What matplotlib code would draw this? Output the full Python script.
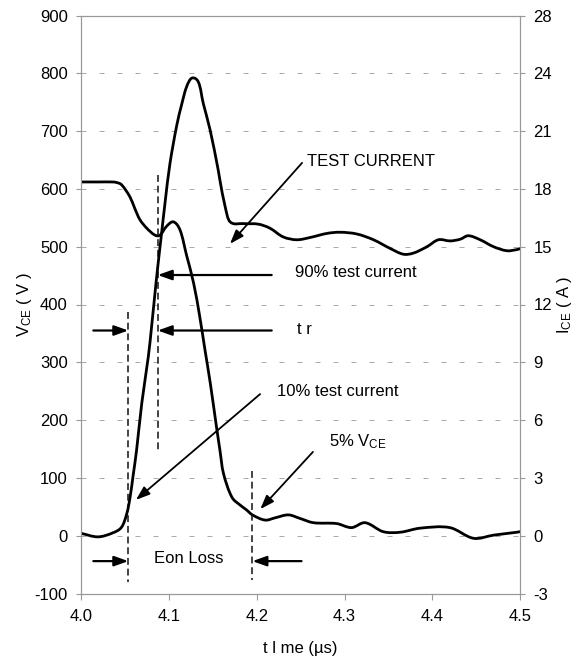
import matplotlib
matplotlib.use("Agg")
import numpy as np
import matplotlib.pyplot as plt
from matplotlib.path import Path
from matplotlib.patches import PathPatch

plt.rcParams['font.family'] = ['Liberation Sans', 'DejaVu Sans']
plt.rcParams['font.size'] = 12
plt.rcParams['axes.unicode_minus'] = False
plt.rcParams['mathtext.fontset'] = 'custom'
plt.rcParams['mathtext.rm'] = 'Liberation Sans'
plt.rcParams['mathtext.it'] = 'Liberation Sans:italic'

# collector-emitter voltage during turn-on (us, V)
t_vce = [4.000, 4.020, 4.035, 4.0404, 4.046, 4.0555, 4.061, 4.0667, 4.0746, 4.084,
         4.0897, 4.097, 4.105, 4.1125, 4.120, 4.128, 4.135, 4.141, 4.147, 4.154,
         4.158, 4.162, 4.1715, 4.181, 4.188, 4.195, 4.2095, 4.221, 4.236, 4.249,
         4.2645, 4.291, 4.308, 4.3235, 4.344, 4.3635, 4.386, 4.420, 4.447, 4.470,
         4.4965, 4.500]
vce = [612, 612, 612, 611, 607, 586, 566, 547, 532, 520,
       520, 535, 543, 529, 485, 437, 379, 321, 264, 189,
       148, 108, 67, 53, 45, 36, 27, 31, 36, 30,
       22.5, 21, 14, 22.5, 7, 6, 13, 14, -4.5, 1,
       6, 7]

# collector current (us, A)
t_ice = [4.000, 4.019, 4.036, 4.046, 4.052, 4.0556, 4.059, 4.063, 4.069, 4.0764,
         4.080, 4.084, 4.087, 4.0915, 4.0955, 4.101, 4.1088, 4.1145, 4.120, 4.126,
         4.1334, 4.139, 4.1468, 4.156, 4.158, 4.164, 4.1696, 4.1847, 4.2018, 4.215,
         4.230, 4.2456, 4.261, 4.280, 4.295, 4.314, 4.333, 4.352, 4.367, 4.3786,
         4.394, 4.407, 4.4204, 4.432, 4.441, 4.4546, 4.4698, 4.485, 4.4965, 4.500]
ice = [0.12, -0.06, 0.15, 0.45, 1.17, 2.0, 3.1, 4.44, 6.9, 9.3,
       10.8, 12.6, 13.9, 15.7, 17.3, 19.3, 21.3, 22.4, 23.3, 23.75,
       23.55, 22.44, 21.06, 18.99, 18.45, 17.07, 16.29, 16.2, 16.17, 15.96,
       15.51, 15.36, 15.48, 15.69, 15.75, 15.66, 15.36, 14.91, 14.61, 14.67,
       15.0, 15.36, 15.3, 15.39, 15.57, 15.36, 15.0, 14.79, 14.85, 14.9]

v_ticks = list(range(-100, 901, 100))
i_ticks = list(range(-3, 28, 3))
i_labels = [str(v) for v in i_ticks[:-1]] + ['28']
t_ticks = [4.0, 4.1, 4.2, 4.3, 4.4, 4.5]

# marker times: 10% current, 90% current, 5% Vce
t_10 = 4.0536
t_90 = 4.0871
t_5v = 4.195


def smooth_path(xs, ys, sx, sy):
    # bezier through the points; tangents worked out in screen-like units
    # (sx, sy scale x and y) so steep edges do not overshoot
    p = np.column_stack([np.asarray(xs) * sx, np.asarray(ys) * sy])
    n = len(p)
    d = np.zeros_like(p)
    for i in range(n):
        v = p[min(i + 1, n - 1)] - p[max(i - 1, 0)]
        d[i] = v / np.hypot(*v)
    verts = [p[0]]
    codes = [Path.MOVETO]
    for i in range(n - 1):
        L = np.hypot(*(p[i + 1] - p[i])) / 3
        verts += [p[i] + d[i] * L, p[i + 1] - d[i + 1] * L, p[i + 1]]
        codes += [Path.CURVE4] * 3
    verts = np.array(verts) / [sx, sy]
    return Path(verts, codes)


W, H = 581, 664
fig = plt.figure(figsize=(W / 100, H / 100), dpi=100)
ax = fig.add_axes([81.3 / W, 1 - 593.5 / H, (520 - 81.3) / W, (593.5 - 15.5) / H])
ax2 = ax.twinx()

grey = '#999999'
ax.set_xlim(4.0, 4.5)
ax.set_ylim(-100, 900)
ax2.set_ylim(-3, 27)
ax.set_xticks(t_ticks)
ax.set_xticklabels(['%.1f' % v for v in t_ticks])
ax.set_yticks(v_ticks)
ax2.set_yticks(i_ticks)
ax2.set_yticklabels(i_labels)
ax.yaxis.grid(True, color='#aaaaaa', linestyle=(0, (5, 13)), lw=0.72)
ax.set_axisbelow(True)

for a in (ax, ax2):
    for s in a.spines.values():
        s.set_color(grey)
        s.set_linewidth(0.8)
    a.tick_params(direction='out', length=3.8, width=0.8, color=grey,
                  labelsize=12, pad=6)
ax.tick_params(axis='x', length=4.5, pad=7)

px_t = 877 / 0.5          # pixels per us
px_v = 578 / 1000         # pixels per volt
px_a = 578 / 30           # pixels per amp
ax.add_patch(PathPatch(smooth_path(t_vce, vce, px_t, px_v), fill=False, ec='black',
                       lw=2.0, capstyle='round', joinstyle='round'))
ax2.add_patch(PathPatch(smooth_path(t_ice, ice, px_t, px_a), fill=False, ec='black',
                        lw=2.0, capstyle='round', joinstyle='round'))

ax.set_xlabel('t l me (µs)', labelpad=12)
ax.set_ylabel(r'V$_{\mathrm{CE}}$ ( V )', labelpad=0)
ax2.set_ylabel(r'I$_{\mathrm{CE}}$ ( A )', labelpad=2)

dash = dict(color='#111111', lw=1.1, linestyle=(0, (4.5, 2.5)))
ax.plot([t_10, t_10], [387, -80], **dash)
ax.plot([t_90, t_90], [624, 143], **dash)
ax.plot([t_5v, t_5v], [112, -77], **dash)


def arrow(x0, y0, x1, y1, lw=1.3):
    ax.annotate('', xy=(x1, y1), xytext=(x0, y0),
                arrowprops=dict(arrowstyle='-|>,head_length=0.7,head_width=0.25',
                                mutation_scale=12, lw=lw, color='black',
                                shrinkA=0, shrinkB=0))


arrow(4.0137, 355, t_10, 355, lw=1.6)
arrow(4.217, 355, t_90, 355, lw=1.6)
arrow(4.217, 451, t_90, 451, lw=1.6)
arrow(4.0137, -44, t_10, -44, lw=1.6)
arrow(4.251, -44, t_5v, -44, lw=1.6)
arrow(4.2516, 645, 4.1695, 505)
arrow(4.2038, 245, 4.0623, 62)
arrow(4.264, 145, 4.204, 46)

ax.text(4.257, 648, 'TEST CURRENT', va='center', ha='left')
ax.text(4.2435, 456, '90% test current', va='center', ha='left')
ax.text(4.246, 356, 't r', va='center', ha='left')
ax.text(4.223, 250, '10% test current', va='center', ha='left')
ax.text(4.282, 162, r'5% V$_{\mathrm{CE}}$', va='center', ha='left')
ax.text(4.122, -40, 'Eon Loss', va='center', ha='center')

fig.savefig('out.png', dpi=100)
